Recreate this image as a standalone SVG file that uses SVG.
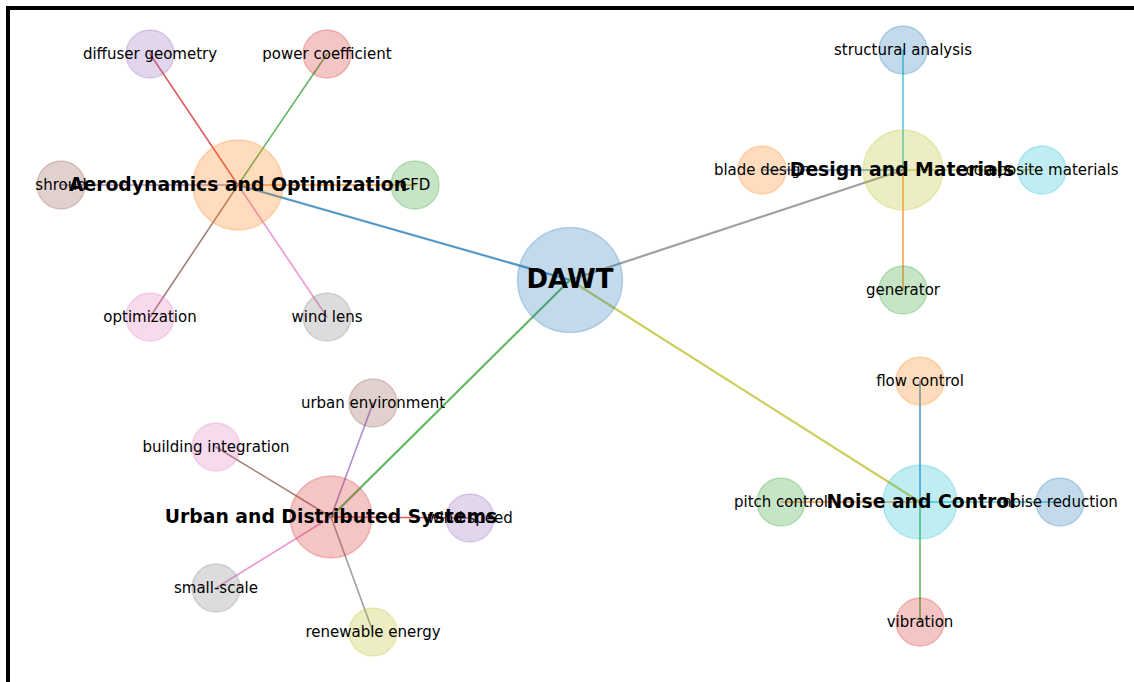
<svg xmlns="http://www.w3.org/2000/svg" width="1134" height="682" viewBox="0 0 1134 682">
<style>
.e{fill:none;stroke-width:1.6;stroke-opacity:0.75;stroke-linecap:round}
.em{stroke-width:2.2}
.n{fill-opacity:0.27;stroke-opacity:0.27;stroke-width:1.5}
.t{font-family:"DejaVu Sans",sans-serif;font-size:15px;fill:#000;text-anchor:middle}
.h{font-family:"DejaVu Sans",sans-serif;font-size:18.8px;font-weight:bold;fill:#000;text-anchor:middle}
.c0{fill:#1f77b4;stroke:#1f77b4}.c1{fill:#ff7f0e;stroke:#ff7f0e}.c2{fill:#2ca02c;stroke:#2ca02c}.c3{fill:#d62728;stroke:#d62728}.c4{fill:#9467bd;stroke:#9467bd}
.c5{fill:#8c564b;stroke:#8c564b}.c6{fill:#e377c2;stroke:#e377c2}.c7{fill:#7f7f7f;stroke:#7f7f7f}.c8{fill:#bcbd22;stroke:#bcbd22}.c9{fill:#17becf;stroke:#17becf}
</style>
<rect x="0" y="0" width="1134" height="682" fill="#fff"/>
<path d="M8 690 V8 H1140" fill="none" stroke="#000" stroke-width="4"/>
<g id="connectors">
<line class="e em" x1="570" y1="280" x2="238" y2="185" stroke="#1f77b4"/>
<line class="e em" x1="570" y1="280" x2="903" y2="170" stroke="#7f7f7f"/>
<line class="e em" x1="570" y1="280" x2="331" y2="517" stroke="#2ca02c"/>
<line class="e em" x1="570" y1="280" x2="920" y2="502" stroke="#bcbd22"/>
<line class="e" x1="238" y1="185" x2="415" y2="185" stroke="#ff7f0e"/>
<line class="e" x1="238" y1="185" x2="327" y2="54" stroke="#2ca02c"/>
<line class="e" x1="238" y1="185" x2="150" y2="54" stroke="#d62728"/>
<line class="e" x1="238" y1="185" x2="61" y2="185" stroke="#9467bd"/>
<line class="e" x1="238" y1="185" x2="150" y2="317" stroke="#8c564b"/>
<line class="e" x1="238" y1="185" x2="327" y2="317" stroke="#e377c2"/>
<line class="e" x1="903" y1="170" x2="1042" y2="170" stroke="#bcbd22"/>
<line class="e" x1="903" y1="170" x2="903" y2="50" stroke="#17becf"/>
<line class="e" x1="903" y1="170" x2="762" y2="170" stroke="#1f77b4"/>
<line class="e" x1="903" y1="170" x2="903" y2="290" stroke="#ff7f0e"/>
<line class="e" x1="331" y1="517" x2="470" y2="518" stroke="#d62728"/>
<line class="e" x1="331" y1="517" x2="373" y2="403" stroke="#9467bd"/>
<line class="e" x1="331" y1="517" x2="216" y2="447" stroke="#8c564b"/>
<line class="e" x1="331" y1="517" x2="216" y2="588" stroke="#e377c2"/>
<line class="e" x1="331" y1="517" x2="373" y2="632" stroke="#7f7f7f"/>
<line class="e" x1="920" y1="502" x2="1060" y2="502" stroke="#17becf"/>
<line class="e" x1="920" y1="502" x2="920" y2="381" stroke="#1f77b4"/>
<line class="e" x1="920" y1="502" x2="781" y2="502" stroke="#ff7f0e"/>
<line class="e" x1="920" y1="502" x2="920" y2="622" stroke="#2ca02c"/>
</g>
<g id="node-diffuser-geometry"><circle class="n c4" cx="150" cy="54" r="24"/><text class="t" x="150" y="58.5">diffuser geometry</text></g>
<g id="node-power-coefficient"><circle class="n c3" cx="327" cy="54" r="24"/><text class="t" x="327" y="58.5">power coefficient</text></g>
<g id="node-shroud"><circle class="n c5" cx="61" cy="185" r="24"/><text class="t" x="61" y="189.5">shroud</text></g>
<g id="node-cfd"><circle class="n c2" cx="415" cy="185" r="24"/><text class="t" x="415" y="189.5">CFD</text></g>
<g id="node-optimization"><circle class="n c6" cx="150" cy="317" r="24"/><text class="t" x="150" y="321.5">optimization</text></g>
<g id="node-wind-lens"><circle class="n c7" cx="327" cy="317" r="24"/><text class="t" x="327" y="321.5">wind lens</text></g>
<g id="node-structural-analysis"><circle class="n c0" cx="903" cy="50" r="24"/><text class="t" x="903" y="54.5">structural analysis</text></g>
<g id="node-blade-design"><circle class="n c1" cx="762" cy="170" r="24"/><text class="t" x="762" y="174.5">blade design</text></g>
<g id="node-composite-materials"><circle class="n c9" cx="1042" cy="170" r="24"/><text class="t" x="1042" y="174.5">composite materials</text></g>
<g id="node-generator"><circle class="n c2" cx="903" cy="290" r="24"/><text class="t" x="903" y="294.5">generator</text></g>
<g id="node-urban-environment"><circle class="n c5" cx="373" cy="403" r="24"/><text class="t" x="373" y="407.5">urban environment</text></g>
<g id="node-building-integration"><circle class="n c6" cx="216" cy="447" r="24"/><text class="t" x="216" y="451.5">building integration</text></g>
<g id="node-wind-speed"><circle class="n c4" cx="470" cy="518" r="24"/><text class="t" x="470" y="522.5">wind speed</text></g>
<g id="node-small-scale"><circle class="n c7" cx="216" cy="588" r="24"/><text class="t" x="216" y="592.5">small-scale</text></g>
<g id="node-renewable-energy"><circle class="n c8" cx="373" cy="632" r="24"/><text class="t" x="373" y="636.5">renewable energy</text></g>
<g id="node-flow-control"><circle class="n c1" cx="920" cy="381" r="24"/><text class="t" x="920" y="385.5">flow control</text></g>
<g id="node-pitch-control"><circle class="n c2" cx="781" cy="502" r="24"/><text class="t" x="781" y="506.5">pitch control</text></g>
<g id="node-noise-reduction"><circle class="n c0" cx="1060" cy="502" r="24"/><text class="t" x="1060" y="506.5">noise reduction</text></g>
<g id="node-vibration"><circle class="n c3" cx="920" cy="622" r="24"/><text class="t" x="920" y="626.5">vibration</text></g>
<g id="node-aero"><circle class="n c1" cx="238" cy="185" r="45"/><text class="h" x="238" y="190.5">Aerodynamics and Optimization</text></g>
<g id="node-design"><circle class="n c8" cx="903" cy="170" r="40"/><text class="h" x="902" y="175.5">Design and Materials</text></g>
<g id="node-urban"><circle class="n c3" cx="331" cy="517" r="41"/><text class="h" x="331" y="522.5">Urban and Distributed Systems</text></g>
<g id="node-noise"><circle class="n c9" cx="920" cy="502" r="37"/><text class="h" x="921" y="507.5">Noise and Control</text></g>
<g id="node-dawt"><circle class="n c0" cx="570" cy="280" r="52.5"/><text class="h" x="570" y="288" style="font-size:26px">DAWT</text></g>
</svg>
